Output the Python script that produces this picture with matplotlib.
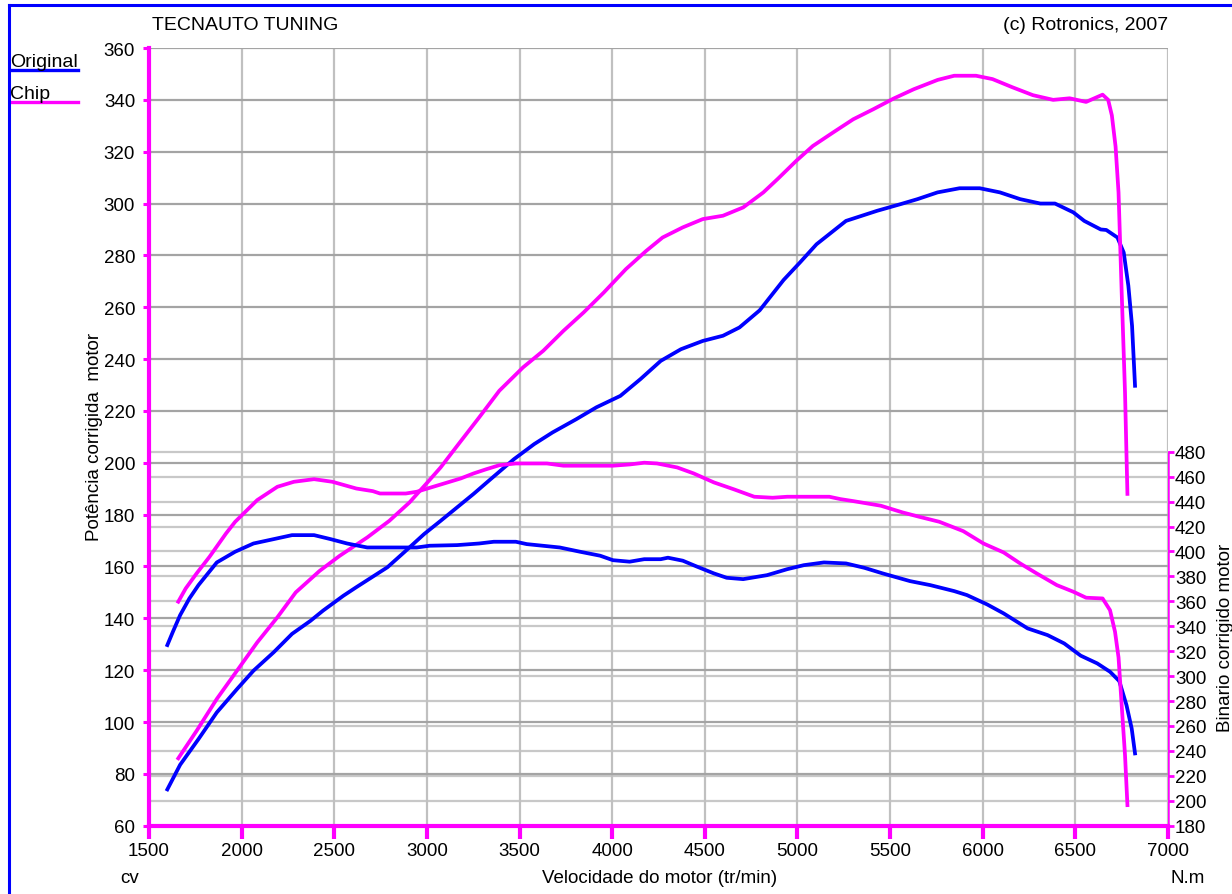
import matplotlib
matplotlib.use("Agg")
import matplotlib.pyplot as plt
from matplotlib.lines import Line2D

plt.rcParams['font.family'] = ['Liberation Sans', 'DejaVu Sans']

# Power curves (cv) vs engine speed (rpm)
orig_pow_rpm = [1599, 1668, 1767, 1866, 1975, 2064, 2173, 2272, 2371, 2440, 2549, 2619, 2787, 2876,
                2985, 3074, 3163, 3252, 3341, 3470, 3579, 3678, 3806, 3915, 4044, 4153, 4262, 4371,
                4489, 4598, 4687, 4796, 4925, 5014, 5103, 5262, 5430, 5558, 5648, 5756, 5875, 5984,
                6093, 6202, 6311, 6390, 6489, 6548, 6637, 6667, 6727, 6761, 6786, 6806, 6822]
orig_pow = [74, 83.5, 93.4, 103.7, 112.7, 119.8, 126.9, 134, 139, 143, 148.7, 152, 159.7, 165.4,
            172.5, 177.6, 182.8, 188, 193.5, 201.4, 207.2, 211.7, 216.8, 221.4, 225.8, 232.3, 239.3, 243.8,
            247, 249, 252.2, 258.8, 270.5, 277.3, 284.3, 293.3, 297.2, 299.8, 301.7, 304.3, 305.9, 305.9,
            304.3, 301.7, 300, 300, 296.6, 293.3, 290, 289.8, 286.9, 281.1, 268.3, 252.8, 229.7]

chip_pow_rpm = [1658, 1757, 1866, 1975, 2084, 2193, 2292, 2421, 2529, 2678, 2797, 2906, 2995, 3074,
                3163, 3282, 3391, 3519, 3628, 3737, 3846, 3955, 4074, 4183, 4272, 4381, 4489, 4598,
                4707, 4816, 4895, 4994, 5083, 5192, 5301, 5410, 5519, 5628, 5757, 5846, 5964, 6053,
                6162, 6271, 6380, 6469, 6558, 6647, 6677, 6697, 6717, 6733, 6750, 6768, 6781]
chip_pow = [86, 96.6, 108.9, 119.8, 130.7, 140.4, 150, 158.3, 164.1, 171.2, 177.6, 184.7, 191.8, 198.2,
            206.5, 217.5, 227.8, 236.8, 243.2, 250.9, 258, 265.7, 274.7, 281.7, 286.9, 290.8, 294, 295.3,
            298.5, 304.3, 309.6, 316.5, 322.2, 327.4, 332.5, 336.4, 340.5, 344.1, 347.7, 349.3, 349.3, 348,
            344.8, 341.8, 340, 340.6, 339.2, 342, 340, 334, 322, 304.3, 265.7, 227.1, 188]

# Torque curves (N.m) vs engine speed (rpm)
orig_trq_rpm = [1599, 1629, 1668, 1718, 1767, 1866, 1965, 2064, 2173, 2272, 2391, 2480, 2569, 2678,
                2797, 2945, 3015, 3163, 3282, 3361, 3480, 3539, 3717, 3826, 3935, 4004, 4094, 4173,
                4262, 4301, 4381, 4460, 4549, 4618, 4707, 4836, 4945, 5034, 5143, 5262, 5361, 5460,
                5608, 5717, 5846, 5915, 6024, 6113, 6242, 6350, 6440, 6529, 6618, 6687, 6737, 6776,
                6804, 6822]
orig_trq = [324.9, 335.6, 348.9, 362.3, 373, 391.2, 399.8, 406.4, 409.9, 413.1, 413.1, 409.9, 406.4, 403.2,
            403.2, 403.2, 404.6, 405.1, 406.4, 407.8, 407.8, 405.9, 403.2, 399.8, 396.6, 393, 391.8, 393.8,
            393.8, 395, 392.6, 387.7, 382.4, 378.9, 377.8, 381, 385.8, 389, 391.2, 390.4, 386.9, 382.4,
            376.2, 373, 368.2, 365, 357.5, 350.3, 338.3, 332.9, 326.2, 316.4, 310.2, 303.5, 296, 276.7,
            258, 238]

chip_trq_rpm = [1658, 1698, 1757, 1827, 1916, 1965, 2084, 2193, 2282, 2391, 2490, 2619, 2708, 2747,
                2886, 2945, 3034, 3183, 3252, 3321, 3391, 3480, 3648, 3737, 4004, 4094, 4173, 4242,
                4351, 4440, 4549, 4658, 4767, 4866, 4945, 5172, 5232, 5301, 5450, 5568, 5658, 5766,
                5895, 6004, 6113, 6202, 6291, 6400, 6489, 6558, 6647, 6687, 6714, 6733, 6750, 6768,
                6781]
chip_trq = [359.7, 370.3, 382.4, 395.8, 414.5, 423.8, 441.2, 451.9, 455.9, 458, 455.9, 450.5, 448.4, 446.5,
            446.5, 447.9, 451.9, 458.6, 462.6, 466, 469.2, 470.6, 470.6, 468.8, 468.8, 469.8, 471.2, 470.6,
            467.4, 462.6, 455.4, 449.8, 443.9, 443.1, 443.9, 443.9, 442, 440.4, 436.7, 431.3, 427.8, 423.8,
            416.3, 406.4, 399.2, 390.4, 382.4, 373, 367.7, 362.9, 362.3, 352.9, 335.6, 315, 276.7, 236.6,
            196.5]

x_ticks = list(range(1500, 7001, 500))
pow_ticks = list(range(60, 361, 20))
trq_ticks = list(range(180, 481, 20))

BLUE = '#0000ff'
MAG = '#ff00ff'
W, H = 1232, 895

fig = plt.figure(figsize=(W / 100, H / 100), dpi=100)
pos = [149 / W, 1 - 826.7 / H, (1168 - 149) / W, (826.7 - 49) / H]

# torque axis (bottom layer: torque grid + right spine)
axT = fig.add_axes(pos, zorder=1)
# power axis (middle: power grid, vertical grid, power curves)
axP = fig.add_axes(pos, zorder=2)
# torque curves on top
axC = fig.add_axes(pos, zorder=3)

xlim = (1500, 7000)
trq_lim = (180, 803.9)

for a in (axT, axP, axC):
    a.set_xlim(*xlim)
for a in (axP, axC):
    a.patch.set_visible(False)

axP.set_ylim(60, 360)
axT.set_ylim(*trq_lim)
axC.set_ylim(*trq_lim)

# torque axis setup
axT.set_xticks([])
axT.yaxis.tick_right()
axT.set_yticks(trq_ticks)
axT.yaxis.grid(True, color='#c8c8c8', linewidth=1.6)
for s in ('left', 'top', 'bottom'):
    axT.spines[s].set_visible(False)
axT.spines['right'].set_color(MAG)
axT.spines['right'].set_linewidth(1.8)
axT.spines['right'].set_bounds(180, 480)
axT.tick_params(axis='y', colors=MAG, length=4, width=2.0, pad=1, labelsize=13.5, labelcolor='black')

# power axis setup
axP.set_xticks(x_ticks)
axP.set_yticks(pow_ticks)
axP.grid(True, axis='y', color='#a4a4a4', linewidth=1.6)
axP.grid(True, axis='x', color='#c0c0c0', linewidth=1.6)
axP.set_axisbelow(True)
for s in ('top', 'right'):
    axP.spines[s].set_visible(False)
for s in ('left', 'bottom'):
    axP.spines[s].set_color(MAG)
    axP.spines[s].set_linewidth(3)
axP.tick_params(axis='y', colors=MAG, length=4, width=2.2, pad=6, labelsize=13.5, labelcolor='black')
axP.tick_params(axis='x', colors=MAG, length=9.5, width=3, pad=2, labelsize=13.5, labelcolor='black')
axP.spines['bottom'].set_zorder(5)

axP.plot(orig_pow_rpm, orig_pow, color=BLUE, linewidth=2.7, solid_joinstyle='round', zorder=3)
axP.plot(chip_pow_rpm, chip_pow, color=MAG, linewidth=2.7, solid_joinstyle='round', zorder=3)

# torque curves
axC.axis('off')
axC.plot(orig_trq_rpm, orig_trq, color=BLUE, linewidth=2.7, solid_joinstyle='round')
axC.plot(chip_trq_rpm, chip_trq, color=MAG, linewidth=2.7, solid_joinstyle='round')

# texts
def fy(py):
    return 1 - py / H

fig.text(152 / W, fy(30.5), 'TECNAUTO TUNING', fontsize=14, va='baseline', ha='left')
fig.text(1168 / W, fy(30.5), '(c) Rotronics, 2007', fontsize=14, va='baseline', ha='right')
fig.text(94.5 / W, fy(437), 'Potência corrigida  motor', fontsize=13.5, rotation=90,
         ha='center', va='center')
fig.text(1225 / W, fy(638), 'Binario corrigido motor', fontsize=13.5, rotation=90,
         ha='center', va='center')
fig.text(130 / W, fy(883), 'cv', fontsize=13.5, ha='center', va='baseline')
fig.text(660 / W, fy(883), 'Velocidade do motor (tr/min)', fontsize=13.5, ha='center', va='baseline')
fig.text(1188 / W, fy(883), 'N.m', fontsize=13.5, ha='center', va='baseline')

# legend
fig.text(10 / W, fy(67), 'Original', fontsize=14, ha='left', va='baseline')
fig.add_artist(Line2D([10 / W, 78 / W], [fy(70.7), fy(70.7)], color=BLUE, linewidth=2.4,
                      transform=fig.transFigure))
fig.text(10 / W, fy(99), 'Chip', fontsize=14, ha='left', va='baseline')
fig.add_artist(Line2D([10 / W, 78 / W], [fy(102.7), fy(102.7)], color=MAG, linewidth=2.4,
                      transform=fig.transFigure))

# blue frame
fig.add_artist(Line2D([8.5 / W, 8.5 / W], [fy(5.8), 0], color=BLUE, linewidth=2.2,
                      transform=fig.transFigure))
fig.add_artist(Line2D([8.5 / W, 1], [fy(5.8), fy(5.8)], color=BLUE, linewidth=2.2,
                      transform=fig.transFigure))

fig.savefig('out.png', dpi=100)
